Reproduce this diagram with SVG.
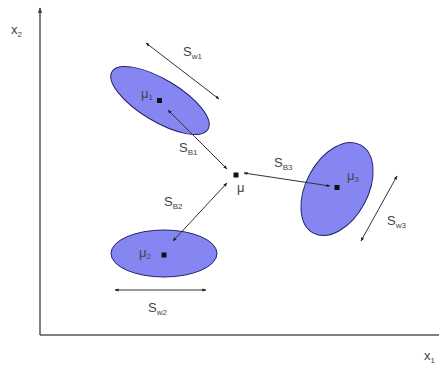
<svg xmlns="http://www.w3.org/2000/svg" width="439" height="367" viewBox="0 0 439 367">
<style>
.ax{stroke:#555;stroke-width:1.5;fill:none}
.ln{stroke:#333;stroke-width:1;fill:none}
.el{fill:#8686f2;stroke:#22226a;stroke-width:1}
.t{font-family:"Liberation Sans",Arial,sans-serif;font-size:13px;fill:#444}
.s{font-size:8px}
.pt{fill:#111}
</style>
<defs>
<marker id="ah" viewBox="0 0 10 10" refX="9" refY="5" markerWidth="4" markerHeight="4" orient="auto-start-reverse">
<path d="M0,1 L10,5 L0,9 z" fill="#222"/>
</marker>
<marker id="axa" viewBox="0 0 10 10" refX="9" refY="5" markerWidth="4" markerHeight="4" orient="auto">
<path d="M0,1 L10,5 L0,9 z" fill="#444"/>
</marker>
</defs>
<g id="axes">
<path class="ax" d="M40,335 V8" marker-end="url(#axa)"/>
<path class="ax" d="M40,335 H439"/>
<text class="t" x="11" y="34" font-size="12">x<tspan class="s" dy="3">2</tspan></text>
<text class="t" x="424" y="360" font-size="12">x<tspan class="s" dy="3">1</tspan></text>
</g>
<g id="cluster1">
<ellipse class="el" cx="160" cy="100.5" rx="56" ry="21" transform="rotate(31 160 100.5)"/>
<rect class="pt" x="157" y="98" width="5" height="5"/>
<text class="t" x="141" y="98" font-size="11">μ<tspan class="s" dy="2">1</tspan></text>
</g>
<g id="cluster2">
<ellipse class="el" cx="164" cy="253.5" rx="53" ry="23.5"/>
<rect class="pt" x="161.5" y="252.5" width="5" height="5"/>
<text class="t" x="139" y="257" font-size="11">μ<tspan class="s" dy="2">2</tspan></text>
</g>
<g id="cluster3">
<ellipse class="el" cx="337" cy="189" rx="50" ry="31" transform="rotate(-62 337 189)"/>
<rect class="pt" x="334.5" y="185" width="5" height="5"/>
<text class="t" x="347" y="180" font-size="11">μ<tspan class="s" dy="2">3</tspan></text>
</g>
<g id="mean">
<rect class="pt" x="233.5" y="172.5" width="5" height="5"/>
<text class="t" x="237" y="192" font-size="11">μ</text>
</g>
<g id="connectors">
<path class="ln" d="M168,110 L227,169" marker-start="url(#ah)" marker-end="url(#ah)"/>
<path class="ln" d="M173,241 L227,183" marker-start="url(#ah)" marker-end="url(#ah)"/>
<path class="ln" d="M244,173 L330,186" marker-start="url(#ah)" marker-end="url(#ah)"/>
<path class="ln" d="M146,43 L219,99" marker-start="url(#ah)" marker-end="url(#ah)"/>
<path class="ln" d="M115,290 L206,290" marker-start="url(#ah)" marker-end="url(#ah)"/>
<path class="ln" d="M397,176 L361,241" marker-start="url(#ah)" marker-end="url(#ah)"/>
</g>
<g id="labels">
<text class="t" x="183" y="56">S<tspan class="s" dy="3">w1</tspan></text>
<text class="t" x="179" y="152">S<tspan class="s" dy="3">B1</tspan></text>
<text class="t" x="164" y="206">S<tspan class="s" dy="3">B2</tspan></text>
<text class="t" x="274" y="167">S<tspan class="s" dy="3">B3</tspan></text>
<text class="t" x="148" y="312">S<tspan class="s" dy="3">w2</tspan></text>
<text class="t" x="387" y="225">S<tspan class="s" dy="3">w3</tspan></text>
</g>
</svg>
